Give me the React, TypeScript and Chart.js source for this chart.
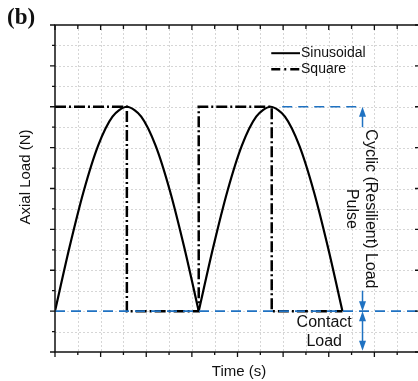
import React, { useEffect, useRef } from "react";
import { Chart, registerables } from "chart.js";

Chart.register(...registerables);

// ---- data ----
const sinPulse1T = [0, 0.315, 0.63, 0.945, 1.26, 1.575, 1.89, 2.205, 2.52, 2.835, 3.15];
const sinPulse1Y = [1, 2.55, 3.94, 5.05, 5.76, 6, 5.76, 5.05, 3.94, 2.55, 1];
const sinPulse2T = [3.15, 3.465, 3.78, 4.095, 4.41, 4.725, 5.04, 5.355, 5.67, 5.985, 6.3];
const sinPulse2Y = [1, 2.55, 3.94, 5.05, 5.76, 6, 5.76, 5.05, 3.94, 2.55, 1];
const squareT = [0, 1.575, 1.575, 3.15, 3.15, 4.75, 4.75, 6.3];
const squareY = [6, 6, 1, 1, 6, 6, 1, 1];
const peakRefT = [4.98, 6.73];
const peakRefY = [6, 6];
const contactRefT = [0, 8];
const contactRefY = [1, 1];
const arrowX = 6.74;
const cyclicArrowY = [6, 5.5]; // tip, tail
const cyclicArrowLowY = [1, 1.5]; // tip, tail
const contactArrowY = [1, 0.03]; // both ends are tips

const axisMin = 0;
const axisMax = 8;
const gridStep = 0.5;

const BLUE = "#1f72c2";
const FONT = "'Liberation Sans', Arial, sans-serif";

const pts = (xs: number[], ys: number[]) => xs.map((x, i) => ({ x, y: ys[i] }));

function arrowHead(ctx: CanvasRenderingContext2D, x: number, tipY: number, dir: number) {
  // dir: -1 points up, +1 points down
  const len = 10;
  const half = 3.5;
  ctx.beginPath();
  ctx.moveTo(x, tipY);
  ctx.lineTo(x - half, tipY - dir * len);
  ctx.lineTo(x + half, tipY - dir * len);
  ctx.closePath();
  ctx.fill();
}

const decorPlugin = {
  id: "decor",
  beforeDatasetsDraw(chart: any) {
    const { ctx, chartArea: a, scales } = chart;
    const xs = scales.x;
    const ys = scales.y;
    ctx.save();
    ctx.strokeStyle = "#d6d6d6";
    ctx.lineWidth = 1;
    ctx.setLineDash([2, 2]);
    for (let v = axisMin + gridStep; v < axisMax; v += gridStep) {
      const px = Math.round(xs.getPixelForValue(v)) + 0.5;
      ctx.beginPath();
      ctx.moveTo(px, a.top);
      ctx.lineTo(px, a.bottom);
      ctx.stroke();
      const py = Math.round(ys.getPixelForValue(v)) + 0.5;
      ctx.beginPath();
      ctx.moveTo(a.left, py);
      ctx.lineTo(a.right, py);
      ctx.stroke();
    }
    ctx.restore();
  },
  afterDatasetsDraw(chart: any) {
    const { ctx, chartArea: a, scales } = chart;
    const xs = scales.x;
    const ys = scales.y;
    ctx.save();
    // frame
    ctx.strokeStyle = "#111";
    ctx.lineWidth = 1.5;
    ctx.setLineDash([]);
    ctx.strokeRect(a.left, a.top, a.right - a.left, a.bottom - a.top);
    // ticks
    ctx.lineWidth = 1.3;
    for (let v = axisMin; v <= axisMax + 1e-9; v += gridStep) {
      const major = Math.abs(v - Math.round(v)) < 1e-9;
      const px = xs.getPixelForValue(v);
      const py = ys.getPixelForValue(v);
      const len = major ? 5 : 3;
      ctx.beginPath();
      // left (outward)
      ctx.moveTo(a.left - len, py);
      ctx.lineTo(a.left, py);
      // bottom (outward)
      ctx.moveTo(px, a.bottom);
      ctx.lineTo(px, a.bottom + len);
      // top (inward)
      ctx.moveTo(px, a.top);
      ctx.lineTo(px, a.top + (major ? 5 : 4));
      if (major) {
        // right (inward)
        ctx.moveTo(a.right - 5, py);
        ctx.lineTo(a.right, py);
      }
      ctx.stroke();
    }

    // arrows
    const ax = xs.getPixelForValue(arrowX);
    ctx.strokeStyle = BLUE;
    ctx.fillStyle = BLUE;
    ctx.lineWidth = 1.5;
    const c1 = ys.getPixelForValue(cyclicArrowY[0]);
    const c2 = ys.getPixelForValue(cyclicArrowY[1]);
    ctx.beginPath();
    ctx.moveTo(ax, c1 + 5);
    ctx.lineTo(ax, c2);
    ctx.stroke();
    arrowHead(ctx, ax, c1, -1);
    const l1 = ys.getPixelForValue(cyclicArrowLowY[0]);
    const l2 = ys.getPixelForValue(cyclicArrowLowY[1]);
    ctx.beginPath();
    ctx.moveTo(ax, l2);
    ctx.lineTo(ax, l1 - 5);
    ctx.stroke();
    arrowHead(ctx, ax, l1, 1);
    const k1 = ys.getPixelForValue(contactArrowY[0]);
    const k2 = ys.getPixelForValue(contactArrowY[1]);
    ctx.beginPath();
    ctx.moveTo(ax, k1 + 5);
    ctx.lineTo(ax, k2 - 5);
    ctx.stroke();
    arrowHead(ctx, ax, k1, -1);
    arrowHead(ctx, ax, k2, 1);

    // texts
    ctx.fillStyle = "#111";
    ctx.textAlign = "center";
    ctx.textBaseline = "middle";
    ctx.font = `16px ${FONT}`;
    ctx.fillText("Contact", xs.getPixelForValue(5.9), ys.getPixelForValue(0.73));
    ctx.fillText("Load", xs.getPixelForValue(5.9), ys.getPixelForValue(0.245));

    const rotText = (t: string, x: number, y: number) => {
      ctx.save();
      ctx.translate(x, y);
      ctx.rotate(Math.PI / 2);
      ctx.fillText(t, 0, 0);
      ctx.restore();
    };
    rotText("Cyclic (Resilient) Load", xs.getPixelForValue(6.92), ys.getPixelForValue(3.5));
    rotText("Pulse", xs.getPixelForValue(6.5), ys.getPixelForValue(3.5));

    // legend
    ctx.font = `14px ${FONT}`;
    ctx.textAlign = "left";
    const lx0 = xs.getPixelForValue(4.74);
    const lx1 = xs.getPixelForValue(5.37);
    const ly1 = ys.getPixelForValue(7.31);
    const ly2 = ys.getPixelForValue(6.92);
    ctx.strokeStyle = "#000";
    ctx.lineWidth = 2;
    ctx.beginPath();
    ctx.moveTo(lx0, ly1);
    ctx.lineTo(lx1, ly1);
    ctx.stroke();
    ctx.setLineDash([9, 4, 2, 4]);
    ctx.lineWidth = 2.5;
    ctx.beginPath();
    ctx.moveTo(lx0, ly2);
    ctx.lineTo(lx1, ly2);
    ctx.stroke();
    ctx.setLineDash([]);
    ctx.fillText("Sinusoidal", lx1 + 1, ly1);
    ctx.fillText("Square", lx1 + 1, ly2);

    // axis titles
    ctx.font = `15px ${FONT}`;
    ctx.textAlign = "center";
    ctx.fillText("Time (s)", 239, 372);
    ctx.save();
    ctx.translate(26, 177);
    ctx.rotate(-Math.PI / 2);
    ctx.fillText("Axial Load (N)", 0, 0);
    ctx.restore();

    // panel label
    ctx.font = `bold 23px 'Liberation Serif', 'Times New Roman', serif`;
    ctx.textAlign = "left";
    ctx.textBaseline = "alphabetic";
    ctx.fillText("(b)", 7, 24);
    ctx.restore();
  },
};

export default function App() {
  const ref = useRef<HTMLCanvasElement | null>(null);
  useEffect(() => {
    if (!ref.current) return;
    const chart = new Chart(ref.current, {
      type: "scatter",
      data: {
        datasets: [
          {
            label: "Contact ref",
            data: pts(contactRefT, contactRefY),
            showLine: true,
            borderColor: BLUE,
            borderWidth: 1.6,
            borderDash: [10, 6],
            pointRadius: 0,
            order: 0,
          },
          {
            label: "Peak ref",
            data: pts(peakRefT, peakRefY),
            showLine: true,
            borderColor: BLUE,
            borderWidth: 1.6,
            borderDash: [10, 6],
            pointRadius: 0,
            order: 0,
          },
          {
            label: "Square",
            data: pts(squareT, squareY),
            showLine: true,
            borderColor: "#000",
            borderWidth: 2.5,
            borderDash: [11, 3, 2, 3],
            pointRadius: 0,
            tension: 0,
            order: 1,
          },
          {
            label: "Sinusoidal",
            data: pts(sinPulse1T, sinPulse1Y),
            showLine: true,
            borderColor: "#000",
            borderWidth: 2.2,
            pointRadius: 0,
            tension: 0.3,
            order: 1,
          },
          {
            label: "Sinusoidal 2",
            data: pts(sinPulse2T, sinPulse2Y),
            showLine: true,
            borderColor: "#000",
            borderWidth: 2.2,
            pointRadius: 0,
            tension: 0.3,
            order: 1,
          },
        ],
      },
      options: {
        animation: false,
        responsive: false,
        devicePixelRatio: 1,
        layout: { padding: { left: 55, top: 25, right: 1, bottom: 29 } },
        plugins: { legend: { display: false }, tooltip: { enabled: false } },
        scales: {
          x: { type: "linear", min: axisMin, max: axisMax, display: false },
          y: { type: "linear", min: axisMin, max: axisMax, display: false },
        },
      },
      plugins: [decorPlugin],
    });
    return () => chart.destroy();
  }, []);
  return (
    <div
      style={{
        position: "fixed",
        left: 0,
        top: 0,
        width: 418,
        height: 381,
        overflow: "hidden",
        background: "#fff",
      }}
    >
      <canvas ref={ref} width={421} height={381} style={{ width: 421, height: 381, display: "block" }} />
    </div>
  );
}
